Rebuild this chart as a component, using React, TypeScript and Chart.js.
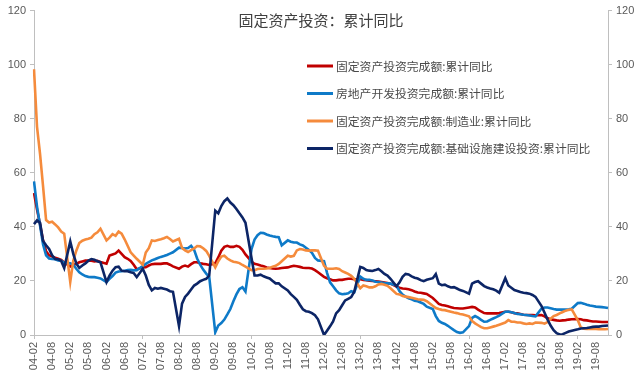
import React, { useEffect, useRef } from "react";
import { Chart, registerables } from "chart.js";

Chart.register(...registerables);

// Monthly categories 2004-02 … 2019-12 (label format YY-MM)
const FIRST_YEAR = 2004;
const FIRST_MONTH = 2;
const LAST_YEAR = 2019;
const categories: string[] = [];
for (let y = FIRST_YEAR; y <= LAST_YEAR; y++) {
  for (let m = 1; m <= 12; m++) {
    if (y === FIRST_YEAR && m < FIRST_MONTH) continue;
    categories.push(`${String(y % 100).padStart(2, "0")}-${String(m).padStart(2, "0")}`);
  }
}

const TITLE = "固定资产投资：累计同比";
const seriesNames = [
  "固定资产投资完成额:累计同比",
  "房地产开发投资完成额:累计同比",
  "固定资产投资完成额:制造业:累计同比",
  "固定资产投资完成额:基础设施建设投资:累计同比",
];
const seriesColors = ["#C00000", "#0E7AC8", "#F58B3C", "#0C2566"];

// January has no release (null) – lines span the gap
const fixedAsset: (number | null)[] = [
  52.5, 46.4, 41, 35, 31, 29.5, 29, 28.6, 28.2, 27.8, 26.8,
  null, 25.3, 25.9, 26.3, 26.9, 27.2, 27.5, 27.5, 27.5, 27.2, 27.4, 27,
  null, 26.4, 29.4, 29.8, 30.2, 31.2, 30, 28.8, 28.2, 27.4, 26, 24.3,
  null, 25, 25.1, 25.7, 26.2, 26.3, 26.3, 26.3, 26.5, 26.5, 26, 25.4,
  null, 24.5, 25.3, 25.7, 25.3, 26.2, 26.9, 26.9, 26.5, 26.3, 26.2, 25.9,
  null, 26.5, 28.7, 31.2, 32.6, 33, 32.6, 32.6, 33, 32.6, 31.5, 29.8,
  null, 27.2, 26.3, 26.1, 25.7, 25.4, 25, 24.8, 24.6, 24.5, 24.6, 24.8,
  null, 25, 25.3, 25.6, 25.4, 25.2, 24.9, 24.8, 24.8, 24.6, 24, 23.2,
  null, 21.5, 21, 20.6, 20.2, 20.2, 20.4, 20.4, 20.6, 20.8, 20.8, 20.6,
  null, 20.6, 20.4, 20.3, 20.1, 20, 19.9, 19.8, 19.6, 19.4, 19.2, 19,
  null, 17.9, 17.5, 17.2, 17.1, 16.9, 16.6, 16.1, 15.7, 15.6, 15.4, 15.2,
  null, 13.7, 12.6, 11.5, 11.1, 10.9, 10.6, 10.3, 10, 9.9, 9.8, 9.8,
  null, 10.2, 10.4, 10.2, 9.4, 8.7, 8.1, 8, 8, 8, 8, 8.1,
  null, 8.6, 8.6, 8.4, 8.1, 8, 7.8, 7.5, 7.4, 7.4, 7.4, 7.3,
  null, 7.4, 6.9, 6.2, 5.8, 5.6, 5.4, 5.3, 5.4, 5.5, 5.7, 5.8,
  null, 5.9, 5.8, 5.5, 5.4, 5.2, 5, 5, 4.9, 4.8, 4.8, 4.8,
];

const realEstate: (number | null)[] = [
  56.8, 47.5, 40.5, 33.5, 29.5, 28.3, 28.1, 28, 27.6, 27.5, 26.7,
  null, 26.5, 26, 24.5, 23.2, 22.4, 21.8, 21.5, 21.4, 21.4, 21.2, 20.9,
  null, 19.6, 20.8, 21.8, 23.1, 23.5, 23.6, 23.8, 24, 24.1, 23.9, 24,
  null, 25.5, 26.3, 27, 27.6, 28, 28.5, 28.9, 29.2, 29.6, 30.1, 30.6,
  null, 32.3, 32.2, 32, 32.2, 33, 31.5, 28.3, 26, 24.2, 22.7, 21.5,
  null, 1, 3.5, 4.4, 5.7, 7.6, 9.6, 12.5, 15, 17, 17.7, 16.1,
  null, 31.8, 35.3, 36.9, 37.8, 37.7, 37.2, 36.8, 36.5, 36.3, 36.2, 33.2,
  null, 35, 34.5, 34.2, 34.2, 33.5, 33.1, 32.3, 31.4, 30.4, 28.5, 27.6,
  null, 27.3, 23, 19.5, 18, 16.5, 15.4, 15.1, 15.2, 15.4, 16.2, 15.8,
  null, 21.6, 20.8, 20.4, 20.4, 20.2, 19.7, 19.6, 19.4, 19.2, 19.1, 19,
  null, 18.3, 16.2, 14.9, 14.2, 13.6, 13.2, 12.7, 12.5, 12, 11.5, 10.5,
  null, 9.6, 7, 5.2, 4.5, 4.1, 3.4, 2.6, 1.8, 1.1, 0.8, 1,
  null, 3.3, 6.3, 7, 6.4, 5.6, 4.9, 5, 5.6, 6.1, 6.6, 7.2,
  null, 8.6, 8.7, 8.4, 8.1, 7.8, 7.7, 7.5, 7.4, 7.2, 7, 6.9,
  null, 9.8, 10.2, 10.2, 9.9, 9.6, 9.4, 9.4, 9.4, 9.4, 9.5, 9.7,
  null, 11.8, 11.9, 11.6, 11.2, 10.9, 10.7, 10.5, 10.4, 10.3, 10.2, 10,
];

const manufacturing: (number | null)[] = [
  98.3, 77, 67, 55, 42.5, 41.6, 41.9, 40.9, 39.8, 38.3, 37.5,
  null, 19.6, 27.5, 31.2, 34, 34.9, 35.3, 35.6, 36, 37.3, 38, 39.3,
  null, 35, 36, 37.3, 36.7, 38.3, 37.5, 35.4, 33, 30.6, 29.4, 28.2,
  null, 26, 30.5, 32.1, 35, 34.8, 35.1, 35.4, 35.8, 36.3, 35.5, 34.6,
  null, 35.6, 32.2, 31.3, 30.7, 31.4, 32, 32.9, 32.8, 32.1, 31.1, 29.3,
  null, 25, 27.3, 29, 29.3, 28.3, 27.6, 27.1, 26.9, 26.6, 25.9, 25.3,
  null, 24, 24, 24.4, 24.5, 24.5, 24.6, 24.8, 25.3, 25.6, 26.3, 27.3,
  null, 29.3, 29, 29.3, 31.3, 31.8, 31.6, 31.3, 31.2, 31.3, 31.3, 31.2,
  null, 25.6, 24.5, 24.5, 24.5, 24.7, 24.4, 23.6, 23.1, 22.6, 21.9, 20.8,
  null, 17.3, 18.3, 18, 17.6, 17.6, 18, 18.7, 18.9, 18.6, 18.2, 17.3,
  null, 15.2, 15, 14.4, 14.2, 14, 13.8, 13.5, 13.2, 13.1, 13, 12.5,
  null, 10.8, 10, 9.6, 9.3, 9.2, 8.9, 8.6, 8.3, 8.1, 7.8, 7.6,
  null, 6.9, 5.2, 4.3, 3.6, 2.9, 2.5, 2.5, 2.8, 3.1, 3.4, 3.8,
  null, 4.6, 5.5, 4.9, 4.9, 4.6, 4.6, 4.3, 4.1, 4.3, 4.1, 4.6,
  null, 4.5, 4.2, 4.8, 6, 7, 7.4, 8, 8.5, 9, 9.3, 9.5,
  null, 5.5, 2.8, 2.3, 2.2, 2.2, 2.2, 2.2, 2.1, 2.1, 2.1, 2.2,
];

const infrastructure: (number | null)[] = [
  41, 42.4, 41.5, 34.8, 33.2, 31.8, 29.5, 28.1, 28, 27.4, 24.8,
  null, 34.6, 30, 26.5, 24.8, 25.7, 26.5, 27.5, 28.1, 27.8, 27.3, 26.9,
  null, 19.6, 22, 23.8, 25.1, 25.3, 23.8, 23.6, 23.6, 23.2, 22.9, 21.4,
  null, 24.5, 22, 18.5, 16.5, 17.4, 17.1, 17.4, 17.1, 16.8, 16.2, 16,
  null, 3.3, 11.6, 14.1, 15.3, 16.8, 18.3, 19, 19.9, 20.4, 20.8, 22,
  null, 46, 45, 47.7, 49.5, 50.5, 49, 48, 46.6, 45, 43.5, 41.5,
  null, 28.5, 22, 22, 22.3, 21.7, 21.3, 20.9, 20, 19.1, 19.1, 18,
  null, 16.5, 15.1, 14.1, 13, 11.2, 9.5, 8.8, 8.6, 8.1, 7.3, 5.8,
  null, 0, 1.6, 3.2, 5, 8, 9.2, 11, 12.8, 13.4, 14, 16,
  null, 25.2, 24.8, 24, 23.8, 23.7, 24, 24.4, 23.6, 22.6, 22, 20.8,
  null, 18, 19.5, 21.5, 22.6, 22.4, 21.7, 21.2, 20.9, 20.3, 19.9, 20.4,
  null, 21, 22.5, 19, 18.4, 18.6, 18, 17.6, 17.7, 17.2, 16.6, 16.3,
  null, 15.3, 19, 19.6, 19.9, 19, 18.1, 17.6, 17.2, 16.9, 16.4, 15.6,
  null, 21, 18.3, 17.5, 16.6, 16.3, 15.9, 15.6, 15.5, 15.3, 14.8, 14.1,
  null, 10.7, 8.2, 5.7, 3.5, 1.8, 0.7, 0.2, 0.3, 0.8, 1.3, 1.6,
  null, 2.1, 2.4, 2.5, 2.6, 2.8, 3, 3.1, 3.1, 3.3, 3.4, 3.5,
];

const Y_MIN = 0;
const Y_MAX = 120;
const Y_STEP = 20;
const LABEL_EVERY = 6;

const AXIS_COLOR = "#BFBFBF";
const TEXT_COLOR = "#595959";
const CJK = '"Noto Sans CJK SC", "Noto Sans", sans-serif';
const LATIN = '"Liberation Sans", Arial, sans-serif';

const overlayPlugin = {
  id: "titleLegendOverlay",
  afterDraw(chart: any) {
    const ctx = chart.ctx as CanvasRenderingContext2D;
    ctx.save();
    ctx.fillStyle = "#404040";
    ctx.font = `15px ${CJK}`;
    ctx.textAlign = "center";
    ctx.textBaseline = "middle";
    ctx.fillText(TITLE, 321, 20);

    ctx.font = `11.8px ${CJK}`;
    ctx.textAlign = "left";
    const items = chart.data.datasets.slice().sort((a: any, b: any) => a.legendIndex - b.legendIndex);
    items.forEach((ds: any, i: number) => {
      const y = 66 + i * 27.5;
      ctx.strokeStyle = ds.borderColor;
      ctx.lineWidth = 3;
      ctx.beginPath();
      ctx.moveTo(307, y);
      ctx.lineTo(333, y);
      ctx.stroke();
      ctx.fillStyle = "#4a4a4a";
      ctx.fillText(ds.label, 336, y + 0.5);
    });
    ctx.restore();
  },
};

export default function App() {
  const canvasRef = useRef<HTMLCanvasElement | null>(null);

  useEffect(() => {
    if (!canvasRef.current) return;
    const seriesData = [fixedAsset, realEstate, manufacturing, infrastructure];
    const datasets = seriesData.map((d, i) => ({
      label: seriesNames[i],
      data: d,
      borderColor: seriesColors[i],
      backgroundColor: seriesColors[i],
      borderWidth: 2.6,
      pointRadius: 0,
      pointHoverRadius: 0,
      tension: 0,
      spanGaps: true,
      fill: false,
      yAxisID: "y",
      order: seriesData.length - 1 - i,
      legendIndex: i,
    }));

    const yAxisCommon = {
      type: "linear" as const,
      min: Y_MIN,
      max: Y_MAX,
      ticks: {
        stepSize: Y_STEP,
        color: TEXT_COLOR,
        font: { family: LATIN, size: 11 },
        padding: 4,
      },
      grid: {
        drawOnChartArea: false,
        drawTicks: true,
        tickLength: 4,
        tickColor: AXIS_COLOR,
      },
      border: { display: true, color: AXIS_COLOR, width: 1 },
    };

    const chart = new Chart(canvasRef.current, {
      type: "line",
      data: { labels: categories, datasets: datasets as any },
      options: {
        responsive: false,
        animation: false,
        maintainAspectRatio: false,
        layout: { padding: { top: 8, left: 0, right: 0, bottom: 0 } },
        plugins: {
          legend: { display: false },
          title: { display: false },
          tooltip: { enabled: false },
        },
        scales: {
          x: {
            type: "category",
            offset: false,
            ticks: {
              autoSkip: false,
              minRotation: 90,
              maxRotation: 90,
              padding: 3,
              color: TEXT_COLOR,
              font: { family: LATIN, size: 11 },
              callback: function (this: any, value: any, index: number) {
                return index % LABEL_EVERY === 0 ? this.getLabelForValue(value) : null;
              },
            },
            grid: {
              drawOnChartArea: false,
              drawTicks: true,
              tickLength: 4,
              tickColor: (c: any) => (c.index % LABEL_EVERY === 0 ? AXIS_COLOR : "rgba(0,0,0,0)"),
            },
            border: { display: true, color: AXIS_COLOR, width: 1 },
            afterFit: (s: any) => {
              s.height = 38;
            },
          },
          y: {
            ...yAxisCommon,
            position: "left",
            afterFit: (s: any) => {
              s.width = 34;
            },
          },
          y2: {
            ...yAxisCommon,
            position: "right",
            afterFit: (s: any) => {
              s.width = 33;
            },
          },
        },
      } as any,
      plugins: [overlayPlugin],
    });

    return () => chart.destroy();
  }, []);

  return (
    <div style={{ position: "fixed", left: 0, top: 0, width: 641, height: 373, background: "#fff" }}>
      <canvas ref={canvasRef} width={641} height={373} style={{ display: "block" }} />
    </div>
  );
}
